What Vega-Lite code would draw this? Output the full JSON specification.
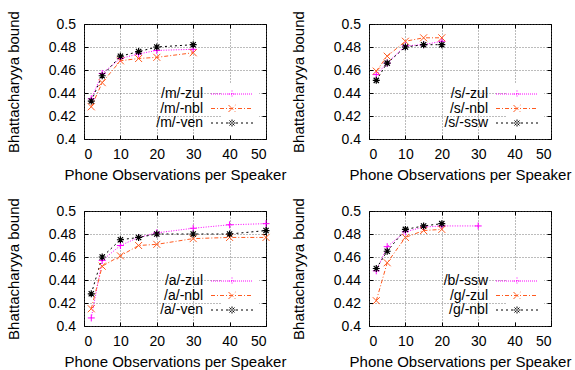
{
  "$schema": "https://vega.github.io/schema/vega-lite/v6.json",
  "padding": {"left": 5, "top": 10, "right": 2, "bottom": 2},
  "background": "white",
  "datasets": {
    "m": [
      {"obs": 2, "bound": 0.435, "series": "/m/-zul"},
      {"obs": 5, "bound": 0.457, "series": "/m/-zul"},
      {"obs": 10, "bound": 0.470, "series": "/m/-zul"},
      {"obs": 15, "bound": 0.474, "series": "/m/-zul"},
      {"obs": 20, "bound": 0.477, "series": "/m/-zul"},
      {"obs": 30, "bound": 0.478, "series": "/m/-zul"},
      {"obs": 2, "bound": 0.428, "series": "/m/-nbl"},
      {"obs": 5, "bound": 0.449, "series": "/m/-nbl"},
      {"obs": 10, "bound": 0.468, "series": "/m/-nbl"},
      {"obs": 15, "bound": 0.470, "series": "/m/-nbl"},
      {"obs": 20, "bound": 0.471, "series": "/m/-nbl"},
      {"obs": 30, "bound": 0.475, "series": "/m/-nbl"},
      {"obs": 2, "bound": 0.433, "series": "/m/-ven"},
      {"obs": 5, "bound": 0.455, "series": "/m/-ven"},
      {"obs": 10, "bound": 0.472, "series": "/m/-ven"},
      {"obs": 15, "bound": 0.476, "series": "/m/-ven"},
      {"obs": 20, "bound": 0.480, "series": "/m/-ven"},
      {"obs": 30, "bound": 0.482, "series": "/m/-ven"}
    ],
    "s": [
      {"obs": 2, "bound": 0.456, "series": "/s/-zul"},
      {"obs": 5, "bound": 0.466, "series": "/s/-zul"},
      {"obs": 10, "bound": 0.481, "series": "/s/-zul"},
      {"obs": 15, "bound": 0.482, "series": "/s/-zul"},
      {"obs": 20, "bound": 0.485, "series": "/s/-zul"},
      {"obs": 2, "bound": 0.459, "series": "/s/-nbl"},
      {"obs": 5, "bound": 0.472, "series": "/s/-nbl"},
      {"obs": 10, "bound": 0.485, "series": "/s/-nbl"},
      {"obs": 15, "bound": 0.488, "series": "/s/-nbl"},
      {"obs": 20, "bound": 0.488, "series": "/s/-nbl"},
      {"obs": 2, "bound": 0.451, "series": "/s/-ssw"},
      {"obs": 5, "bound": 0.466, "series": "/s/-ssw"},
      {"obs": 10, "bound": 0.480, "series": "/s/-ssw"},
      {"obs": 15, "bound": 0.482, "series": "/s/-ssw"},
      {"obs": 20, "bound": 0.482, "series": "/s/-ssw"}
    ],
    "a": [
      {"obs": 2, "bound": 0.407, "series": "/a/-zul"},
      {"obs": 5, "bound": 0.457, "series": "/a/-zul"},
      {"obs": 10, "bound": 0.470, "series": "/a/-zul"},
      {"obs": 15, "bound": 0.477, "series": "/a/-zul"},
      {"obs": 20, "bound": 0.481, "series": "/a/-zul"},
      {"obs": 30, "bound": 0.485, "series": "/a/-zul"},
      {"obs": 40, "bound": 0.488, "series": "/a/-zul"},
      {"obs": 50, "bound": 0.489, "series": "/a/-zul"},
      {"obs": 2, "bound": 0.415, "series": "/a/-nbl"},
      {"obs": 5, "bound": 0.452, "series": "/a/-nbl"},
      {"obs": 10, "bound": 0.461, "series": "/a/-nbl"},
      {"obs": 15, "bound": 0.470, "series": "/a/-nbl"},
      {"obs": 20, "bound": 0.471, "series": "/a/-nbl"},
      {"obs": 30, "bound": 0.476, "series": "/a/-nbl"},
      {"obs": 40, "bound": 0.477, "series": "/a/-nbl"},
      {"obs": 50, "bound": 0.477, "series": "/a/-nbl"},
      {"obs": 2, "bound": 0.428, "series": "/a/-ven"},
      {"obs": 5, "bound": 0.460, "series": "/a/-ven"},
      {"obs": 10, "bound": 0.475, "series": "/a/-ven"},
      {"obs": 15, "bound": 0.477, "series": "/a/-ven"},
      {"obs": 20, "bound": 0.480, "series": "/a/-ven"},
      {"obs": 30, "bound": 0.480, "series": "/a/-ven"},
      {"obs": 40, "bound": 0.480, "series": "/a/-ven"},
      {"obs": 50, "bound": 0.483, "series": "/a/-ven"}
    ],
    "g": [
      {"obs": 2, "bound": 0.448, "series": "/b/-ssw"},
      {"obs": 5, "bound": 0.469, "series": "/b/-ssw"},
      {"obs": 10, "bound": 0.482, "series": "/b/-ssw"},
      {"obs": 15, "bound": 0.486, "series": "/b/-ssw"},
      {"obs": 20, "bound": 0.487, "series": "/b/-ssw"},
      {"obs": 30, "bound": 0.487, "series": "/b/-ssw"},
      {"obs": 2, "bound": 0.422, "series": "/g/-zul"},
      {"obs": 5, "bound": 0.455, "series": "/g/-zul"},
      {"obs": 10, "bound": 0.477, "series": "/g/-zul"},
      {"obs": 15, "bound": 0.483, "series": "/g/-zul"},
      {"obs": 20, "bound": 0.484, "series": "/g/-zul"},
      {"obs": 2, "bound": 0.450, "series": "/g/-nbl"},
      {"obs": 5, "bound": 0.465, "series": "/g/-nbl"},
      {"obs": 10, "bound": 0.484, "series": "/g/-nbl"},
      {"obs": 15, "bound": 0.487, "series": "/g/-nbl"},
      {"obs": 20, "bound": 0.489, "series": "/g/-nbl"}
    ]
  },
  "config": {
    "font": "Liberation Sans",
    "view": {"stroke": "black", "strokeWidth": 1},
    "axis": {
      "domain": false,
      "tickColor": "black",
      "tickSize": -4,
      "labelFontSize": 14,
      "labelColor": "black",
      "titleFontSize": 15,
      "titleFontWeight": "normal",
      "titleColor": "black",
      "gridColor": "#555555",
      "gridDash": [1, 2],
      "gridWidth": 0.8
    },
    "axisX": {"labelPadding": 12, "titlePadding": 6},
    "axisY": {"labelPadding": 12.5, "titlePadding": 27},
    "legend": {
      "labelFontSize": 14,
      "labelColor": "black",
      "labelAlign": "right",
      "labelOffset": -36,
      "symbolStrokeWidth": 1,
      "symbolOpacity": 1,
      "symbolSize": 100,
      "fillColor": "white",
      "padding": 4,
      "rowPadding": 0.5,
      "orient": "none",
      "legendX": 137,
      "legendY": 59
    }
  },
  "bounds": "flush",
  "spacing": {"row": 72, "column": 103},
  "columns": 2,
  "resolve": {"scale": {"color": "independent", "shape": "independent", "strokeDash": "independent"}},
  "concat": [
    {
      "width": 182, "height": 115,
      "data": {"name": "m"},
      "encoding": {
        "x": {"field": "obs", "type": "quantitative", "scale": {"domain": [0, 50], "nice": false}, "axis": null},
        "y": {"field": "bound", "type": "quantitative", "scale": {"domain": [0.4, 0.5], "nice": false, "zero": false}, "axis": null},
        "color": {"field": "series", "type": "nominal", "scale": {"domain": ["/m/-zul", "/m/-nbl", "/m/-ven"], "range": ["#ff00ff", "#ff5a1f", "#000000"]}}
      },
      "layer": [
        {"mark": {"type": "line", "strokeWidth": 1},
         "encoding": {
           "x": {"field": "obs", "type": "quantitative", "scale": {"domain": [0, 50], "nice": false}, "axis": {"values": [0, 10, 20, 30, 40, 50], "title": "Phone Observations per Speaker"}},
           "y": {"field": "bound", "type": "quantitative", "scale": {"domain": [0.4, 0.5], "nice": false, "zero": false}, "axis": {"values": [0.4, 0.42, 0.44, 0.46, 0.48, 0.5], "format": ".2~f", "title": "Bhattacharyya bound"}},
           "strokeDash": {"field": "series", "type": "nominal", "scale": {"domain": ["/m/-zul", "/m/-nbl", "/m/-ven"], "range": [[1, 1.5], [4, 2, 1, 2], [2, 3]]}, "legend": null}}},
        {"transform": [{"filter": "datum.series == '/m/-zul'"}], "mark": {"type": "point", "filled": false, "strokeWidth": 1, "size": 49, "opacity": 1, "shape": "M-1,0H1M0,-1V1"}},
        {"transform": [{"filter": "datum.series == '/m/-nbl'"}], "mark": {"type": "point", "filled": false, "strokeWidth": 1, "size": 49, "opacity": 1, "shape": "M-1,-1L1,1M-1,1L1,-1"}},
        {"transform": [{"filter": "datum.series == '/m/-ven'"}], "mark": {"type": "point", "filled": false, "strokeWidth": 1.2, "size": 49, "opacity": 1, "shape": "M-1,0H1M0,-1V1M-0.75,-0.75L0.75,0.75M-0.75,0.75L0.75,-0.75"}},
        {"mark": {"type": "point", "filled": false, "opacity": 0},
         "encoding": {
           "x": {"field": "obs", "type": "quantitative", "scale": {"domain": [0, 50], "nice": false}, "axis": {"orient": "top", "values": [0, 10, 20, 30, 40, 50], "labels": false, "grid": false, "title": null}},
           "y": {"field": "bound", "type": "quantitative", "scale": {"domain": [0.4, 0.5], "nice": false, "zero": false}, "axis": {"orient": "right", "values": [0.4, 0.42, 0.44, 0.46, 0.48, 0.5], "labels": false, "grid": false, "title": null}},
           "color": {"field": "series", "type": "nominal", "scale": {"domain": ["/m/-zul", "/m/-nbl", "/m/-ven"], "range": ["#ff00ff", "#ff5a1f", "#000000"]}, "legend": {"title": null}},
           "shape": {"field": "series", "type": "nominal", "scale": {"domain": ["/m/-zul", "/m/-nbl", "/m/-ven"], "range": [
             "M-4.2,0h0.2m0.2,0h0.2m0.2,0h0.2m0.2,0h0.2m0.2,0h0.2m0.2,0h0.2m0.2,0h0.2m0.2,0h0.2m0.2,0h0.2m0.2,0h0.2m0.2,0h0.2m0.2,0h0.2m0.2,0h0.2m0.2,0h0.2m0.2,0h0.2m0.2,0h0.2m0.2,0h0.2m0.2,0h0.2m0.2,0h0.2m0.2,0h0.2m0.2,0h0.2M-0.7,0H0.7M0,-0.7V0.7",
             "M-4.2,0h0.8m0.4,0h0.2m0.4,0h0.8m0.4,0h0.2m0.4,0h0.8m0.4,0h0.2m0.4,0h0.8m0.4,0h0.2m0.4,0h0.8M-0.7,-0.7L0.7,0.7M-0.7,0.7L0.7,-0.7",
             "M-4.2,0h0.4m0.6,0h0.4m0.6,0h0.4m0.6,0h0.4m0.6,0h0.4m0.6,0h0.4m0.6,0h0.4m0.6,0h0.4m0.6,0h0.4M-0.7,0H0.7M0,-0.7V0.7M-0.5,-0.5L0.5,0.5M-0.5,0.5L0.5,-0.5"
           ]}, "legend": {"title": null}}}}
      ],
      "resolve": {"axis": {"x": "independent", "y": "independent"}}
    },
    {
      "width": 182, "height": 115,
      "data": {"name": "s"},
      "encoding": {
        "x": {"field": "obs", "type": "quantitative", "scale": {"domain": [0, 50], "nice": false}, "axis": null},
        "y": {"field": "bound", "type": "quantitative", "scale": {"domain": [0.4, 0.5], "nice": false, "zero": false}, "axis": null},
        "color": {"field": "series", "type": "nominal", "scale": {"domain": ["/s/-zul", "/s/-nbl", "/s/-ssw"], "range": ["#ff00ff", "#ff5a1f", "#000000"]}}
      },
      "layer": [
        {"mark": {"type": "line", "strokeWidth": 1},
         "encoding": {
           "x": {"field": "obs", "type": "quantitative", "scale": {"domain": [0, 50], "nice": false}, "axis": {"values": [0, 10, 20, 30, 40, 50], "title": "Phone Observations per Speaker"}},
           "y": {"field": "bound", "type": "quantitative", "scale": {"domain": [0.4, 0.5], "nice": false, "zero": false}, "axis": {"values": [0.4, 0.42, 0.44, 0.46, 0.48, 0.5], "format": ".2~f", "title": "Bhattacharyya bound"}},
           "strokeDash": {"field": "series", "type": "nominal", "scale": {"domain": ["/s/-zul", "/s/-nbl", "/s/-ssw"], "range": [[1, 1.5], [4, 2, 1, 2], [2, 3]]}, "legend": null}}},
        {"transform": [{"filter": "datum.series == '/s/-zul'"}], "mark": {"type": "point", "filled": false, "strokeWidth": 1, "size": 49, "opacity": 1, "shape": "M-1,0H1M0,-1V1"}},
        {"transform": [{"filter": "datum.series == '/s/-nbl'"}], "mark": {"type": "point", "filled": false, "strokeWidth": 1, "size": 49, "opacity": 1, "shape": "M-1,-1L1,1M-1,1L1,-1"}},
        {"transform": [{"filter": "datum.series == '/s/-ssw'"}], "mark": {"type": "point", "filled": false, "strokeWidth": 1.2, "size": 49, "opacity": 1, "shape": "M-1,0H1M0,-1V1M-0.75,-0.75L0.75,0.75M-0.75,0.75L0.75,-0.75"}},
        {"mark": {"type": "point", "filled": false, "opacity": 0},
         "encoding": {
           "x": {"field": "obs", "type": "quantitative", "scale": {"domain": [0, 50], "nice": false}, "axis": {"orient": "top", "values": [0, 10, 20, 30, 40, 50], "labels": false, "grid": false, "title": null}},
           "y": {"field": "bound", "type": "quantitative", "scale": {"domain": [0.4, 0.5], "nice": false, "zero": false}, "axis": {"orient": "right", "values": [0.4, 0.42, 0.44, 0.46, 0.48, 0.5], "labels": false, "grid": false, "title": null}},
           "color": {"field": "series", "type": "nominal", "scale": {"domain": ["/s/-zul", "/s/-nbl", "/s/-ssw"], "range": ["#ff00ff", "#ff5a1f", "#000000"]}, "legend": {"title": null}},
           "shape": {"field": "series", "type": "nominal", "scale": {"domain": ["/s/-zul", "/s/-nbl", "/s/-ssw"], "range": [
             "M-4.2,0h0.2m0.2,0h0.2m0.2,0h0.2m0.2,0h0.2m0.2,0h0.2m0.2,0h0.2m0.2,0h0.2m0.2,0h0.2m0.2,0h0.2m0.2,0h0.2m0.2,0h0.2m0.2,0h0.2m0.2,0h0.2m0.2,0h0.2m0.2,0h0.2m0.2,0h0.2m0.2,0h0.2m0.2,0h0.2m0.2,0h0.2m0.2,0h0.2m0.2,0h0.2M-0.7,0H0.7M0,-0.7V0.7",
             "M-4.2,0h0.8m0.4,0h0.2m0.4,0h0.8m0.4,0h0.2m0.4,0h0.8m0.4,0h0.2m0.4,0h0.8m0.4,0h0.2m0.4,0h0.8M-0.7,-0.7L0.7,0.7M-0.7,0.7L0.7,-0.7",
             "M-4.2,0h0.4m0.6,0h0.4m0.6,0h0.4m0.6,0h0.4m0.6,0h0.4m0.6,0h0.4m0.6,0h0.4m0.6,0h0.4m0.6,0h0.4M-0.7,0H0.7M0,-0.7V0.7M-0.5,-0.5L0.5,0.5M-0.5,0.5L0.5,-0.5"
           ]}, "legend": {"title": null}}}}
      ],
      "resolve": {"axis": {"x": "independent", "y": "independent"}}
    },
    {
      "width": 182, "height": 115,
      "data": {"name": "a"},
      "encoding": {
        "x": {"field": "obs", "type": "quantitative", "scale": {"domain": [0, 50], "nice": false}, "axis": null},
        "y": {"field": "bound", "type": "quantitative", "scale": {"domain": [0.4, 0.5], "nice": false, "zero": false}, "axis": null},
        "color": {"field": "series", "type": "nominal", "scale": {"domain": ["/a/-zul", "/a/-nbl", "/a/-ven"], "range": ["#ff00ff", "#ff5a1f", "#000000"]}}
      },
      "layer": [
        {"mark": {"type": "line", "strokeWidth": 1},
         "encoding": {
           "x": {"field": "obs", "type": "quantitative", "scale": {"domain": [0, 50], "nice": false}, "axis": {"values": [0, 10, 20, 30, 40, 50], "title": "Phone Observations per Speaker"}},
           "y": {"field": "bound", "type": "quantitative", "scale": {"domain": [0.4, 0.5], "nice": false, "zero": false}, "axis": {"values": [0.4, 0.42, 0.44, 0.46, 0.48, 0.5], "format": ".2~f", "title": "Bhattacharyya bound"}},
           "strokeDash": {"field": "series", "type": "nominal", "scale": {"domain": ["/a/-zul", "/a/-nbl", "/a/-ven"], "range": [[1, 1.5], [4, 2, 1, 2], [2, 3]]}, "legend": null}}},
        {"transform": [{"filter": "datum.series == '/a/-zul'"}], "mark": {"type": "point", "filled": false, "strokeWidth": 1, "size": 49, "opacity": 1, "shape": "M-1,0H1M0,-1V1"}},
        {"transform": [{"filter": "datum.series == '/a/-nbl'"}], "mark": {"type": "point", "filled": false, "strokeWidth": 1, "size": 49, "opacity": 1, "shape": "M-1,-1L1,1M-1,1L1,-1"}},
        {"transform": [{"filter": "datum.series == '/a/-ven'"}], "mark": {"type": "point", "filled": false, "strokeWidth": 1.2, "size": 49, "opacity": 1, "shape": "M-1,0H1M0,-1V1M-0.75,-0.75L0.75,0.75M-0.75,0.75L0.75,-0.75"}},
        {"mark": {"type": "point", "filled": false, "opacity": 0},
         "encoding": {
           "x": {"field": "obs", "type": "quantitative", "scale": {"domain": [0, 50], "nice": false}, "axis": {"orient": "top", "values": [0, 10, 20, 30, 40, 50], "labels": false, "grid": false, "title": null}},
           "y": {"field": "bound", "type": "quantitative", "scale": {"domain": [0.4, 0.5], "nice": false, "zero": false}, "axis": {"orient": "right", "values": [0.4, 0.42, 0.44, 0.46, 0.48, 0.5], "labels": false, "grid": false, "title": null}},
           "color": {"field": "series", "type": "nominal", "scale": {"domain": ["/a/-zul", "/a/-nbl", "/a/-ven"], "range": ["#ff00ff", "#ff5a1f", "#000000"]}, "legend": {"title": null}},
           "shape": {"field": "series", "type": "nominal", "scale": {"domain": ["/a/-zul", "/a/-nbl", "/a/-ven"], "range": [
             "M-4.2,0h0.2m0.2,0h0.2m0.2,0h0.2m0.2,0h0.2m0.2,0h0.2m0.2,0h0.2m0.2,0h0.2m0.2,0h0.2m0.2,0h0.2m0.2,0h0.2m0.2,0h0.2m0.2,0h0.2m0.2,0h0.2m0.2,0h0.2m0.2,0h0.2m0.2,0h0.2m0.2,0h0.2m0.2,0h0.2m0.2,0h0.2m0.2,0h0.2m0.2,0h0.2M-0.7,0H0.7M0,-0.7V0.7",
             "M-4.2,0h0.8m0.4,0h0.2m0.4,0h0.8m0.4,0h0.2m0.4,0h0.8m0.4,0h0.2m0.4,0h0.8m0.4,0h0.2m0.4,0h0.8M-0.7,-0.7L0.7,0.7M-0.7,0.7L0.7,-0.7",
             "M-4.2,0h0.4m0.6,0h0.4m0.6,0h0.4m0.6,0h0.4m0.6,0h0.4m0.6,0h0.4m0.6,0h0.4m0.6,0h0.4m0.6,0h0.4M-0.7,0H0.7M0,-0.7V0.7M-0.5,-0.5L0.5,0.5M-0.5,0.5L0.5,-0.5"
           ]}, "legend": {"title": null}}}}
      ],
      "resolve": {"axis": {"x": "independent", "y": "independent"}}
    },
    {
      "width": 182, "height": 115,
      "data": {"name": "g"},
      "encoding": {
        "x": {"field": "obs", "type": "quantitative", "scale": {"domain": [0, 50], "nice": false}, "axis": null},
        "y": {"field": "bound", "type": "quantitative", "scale": {"domain": [0.4, 0.5], "nice": false, "zero": false}, "axis": null},
        "color": {"field": "series", "type": "nominal", "scale": {"domain": ["/b/-ssw", "/g/-zul", "/g/-nbl"], "range": ["#ff00ff", "#ff5a1f", "#000000"]}}
      },
      "layer": [
        {"mark": {"type": "line", "strokeWidth": 1},
         "encoding": {
           "x": {"field": "obs", "type": "quantitative", "scale": {"domain": [0, 50], "nice": false}, "axis": {"values": [0, 10, 20, 30, 40, 50], "title": "Phone Observations per Speaker"}},
           "y": {"field": "bound", "type": "quantitative", "scale": {"domain": [0.4, 0.5], "nice": false, "zero": false}, "axis": {"values": [0.4, 0.42, 0.44, 0.46, 0.48, 0.5], "format": ".2~f", "title": "Bhattacharyya bound"}},
           "strokeDash": {"field": "series", "type": "nominal", "scale": {"domain": ["/b/-ssw", "/g/-zul", "/g/-nbl"], "range": [[1, 1.5], [4, 2, 1, 2], [2, 3]]}, "legend": null}}},
        {"transform": [{"filter": "datum.series == '/b/-ssw'"}], "mark": {"type": "point", "filled": false, "strokeWidth": 1, "size": 49, "opacity": 1, "shape": "M-1,0H1M0,-1V1"}},
        {"transform": [{"filter": "datum.series == '/g/-zul'"}], "mark": {"type": "point", "filled": false, "strokeWidth": 1, "size": 49, "opacity": 1, "shape": "M-1,-1L1,1M-1,1L1,-1"}},
        {"transform": [{"filter": "datum.series == '/g/-nbl'"}], "mark": {"type": "point", "filled": false, "strokeWidth": 1.2, "size": 49, "opacity": 1, "shape": "M-1,0H1M0,-1V1M-0.75,-0.75L0.75,0.75M-0.75,0.75L0.75,-0.75"}},
        {"mark": {"type": "point", "filled": false, "opacity": 0},
         "encoding": {
           "x": {"field": "obs", "type": "quantitative", "scale": {"domain": [0, 50], "nice": false}, "axis": {"orient": "top", "values": [0, 10, 20, 30, 40, 50], "labels": false, "grid": false, "title": null}},
           "y": {"field": "bound", "type": "quantitative", "scale": {"domain": [0.4, 0.5], "nice": false, "zero": false}, "axis": {"orient": "right", "values": [0.4, 0.42, 0.44, 0.46, 0.48, 0.5], "labels": false, "grid": false, "title": null}},
           "color": {"field": "series", "type": "nominal", "scale": {"domain": ["/b/-ssw", "/g/-zul", "/g/-nbl"], "range": ["#ff00ff", "#ff5a1f", "#000000"]}, "legend": {"title": null}},
           "shape": {"field": "series", "type": "nominal", "scale": {"domain": ["/b/-ssw", "/g/-zul", "/g/-nbl"], "range": [
             "M-4.2,0h0.2m0.2,0h0.2m0.2,0h0.2m0.2,0h0.2m0.2,0h0.2m0.2,0h0.2m0.2,0h0.2m0.2,0h0.2m0.2,0h0.2m0.2,0h0.2m0.2,0h0.2m0.2,0h0.2m0.2,0h0.2m0.2,0h0.2m0.2,0h0.2m0.2,0h0.2m0.2,0h0.2m0.2,0h0.2m0.2,0h0.2m0.2,0h0.2m0.2,0h0.2M-0.7,0H0.7M0,-0.7V0.7",
             "M-4.2,0h0.8m0.4,0h0.2m0.4,0h0.8m0.4,0h0.2m0.4,0h0.8m0.4,0h0.2m0.4,0h0.8m0.4,0h0.2m0.4,0h0.8M-0.7,-0.7L0.7,0.7M-0.7,0.7L0.7,-0.7",
             "M-4.2,0h0.4m0.6,0h0.4m0.6,0h0.4m0.6,0h0.4m0.6,0h0.4m0.6,0h0.4m0.6,0h0.4m0.6,0h0.4m0.6,0h0.4M-0.7,0H0.7M0,-0.7V0.7M-0.5,-0.5L0.5,0.5M-0.5,0.5L0.5,-0.5"
           ]}, "legend": {"title": null}}}}
      ],
      "resolve": {"axis": {"x": "independent", "y": "independent"}}
    }
  ]
}
